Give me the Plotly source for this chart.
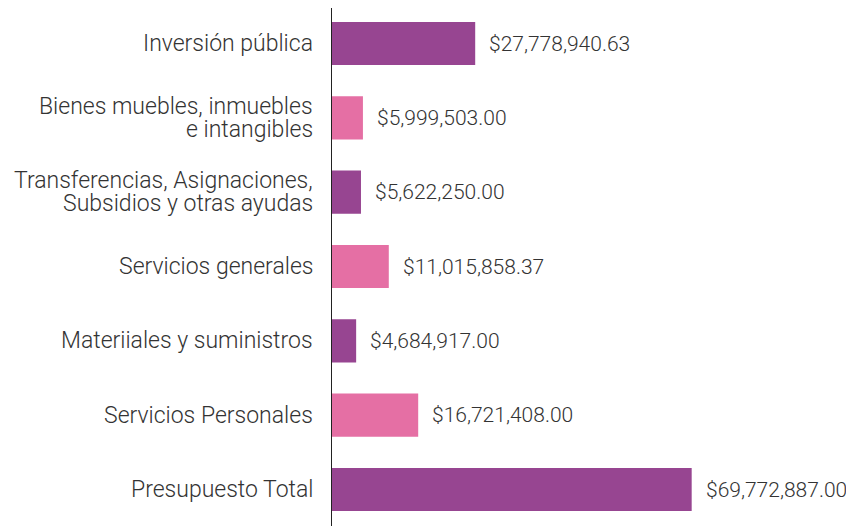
import plotly.graph_objects as go

categories = [
    "Inversión pública",
    "Bienes muebles, inmuebles<br>e intangibles",
    "Transferencias, Asignaciones,<br>Subsidios y otras ayudas",
    "Servicios generales",
    "Materiiales y suministros",
    "Servicios Personales",
    "Presupuesto Total",
]
values = [27778940.63, 5999503.00, 5622250.00, 11015858.37, 4684917.00, 16721408.00, 69772887.00]
bar_colors = ["#974591", "#e56fa4", "#974591", "#e56fa4", "#974591", "#e56fa4", "#974591"]

FONT = "Roboto"
TXT = "#333333"

fig = go.Figure()
fig.add_trace(go.Bar(
    x=values, y=categories, orientation="h",
    marker=dict(color=bar_colors, line=dict(width=0)),
    hoverinfo="skip",
))

# value labels
for v, c in zip(values, categories):
    fig.add_annotation(
        x=v, y=c, xref="x", yref="y", text=f"${v:,.2f}",
        showarrow=False, xanchor="left", xshift=12,
        font=dict(family=FONT, size=21, color=TXT, weight=300),
    )

# category labels (each line placed separately for tight line spacing)
for c in categories:
    lines = c.split("<br>")
    n = len(lines)
    for i, line in enumerate(lines):
        fig.add_annotation(
            x=0, y=c, xref="paper", yref="y", text=line,
            showarrow=False, xanchor="right", xshift=-17,
            yshift=(n - 1) * 11.75 - i * 23.5,
            font=dict(family=FONT, size=23, color=TXT, weight=300),
        )

fig.update_layout(
    width=846, height=518,
    margin=dict(l=324, r=0, t=0, b=0, autoexpand=False),
    paper_bgcolor="white", plot_bgcolor="white",
    bargap=0.42, showlegend=False,
    font=dict(family=FONT, color=TXT),
)
fig.update_xaxes(range=[0, 101.26e6], visible=False, showgrid=False, zeroline=False)
fig.update_yaxes(
    range=[6.491, -0.4776], showline=True, linecolor="#222222", linewidth=1,
    ticks="", showgrid=False, zeroline=False, showticklabels=False,
)

fig.write_html("out.html")
